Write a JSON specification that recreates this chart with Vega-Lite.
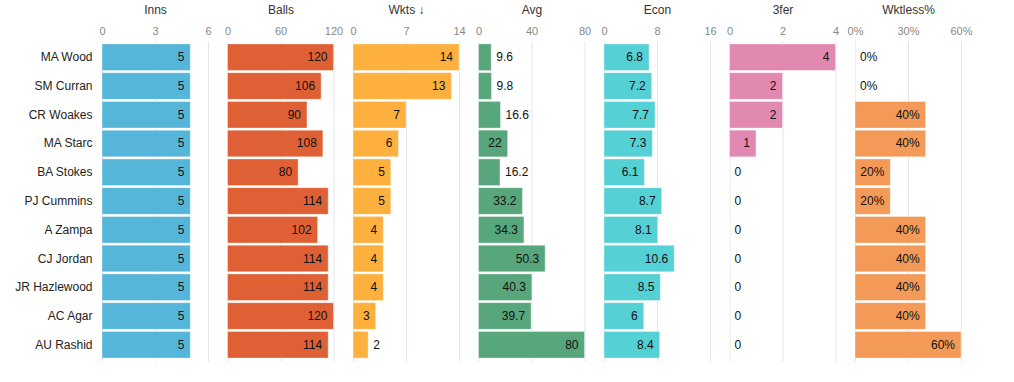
{
  "$schema": "https://vega.github.io/schema/vega-lite/v6.json",
  "padding": {"left": 0, "top": 3, "right": 5, "bottom": 5},
  "background": "white",
  "bounds": "flush",
  "data": {"values": [
    {"Player": "MA Wood", "Inns": 5, "Balls": 120, "Wkts": 14, "Avg": 9.6, "Econ": 6.8, "ThreeFer": 4, "Wktless": 0},
    {"Player": "SM Curran", "Inns": 5, "Balls": 106, "Wkts": 13, "Avg": 9.8, "Econ": 7.2, "ThreeFer": 2, "Wktless": 0},
    {"Player": "CR Woakes", "Inns": 5, "Balls": 90, "Wkts": 7, "Avg": 16.6, "Econ": 7.7, "ThreeFer": 2, "Wktless": 0.4},
    {"Player": "MA Starc", "Inns": 5, "Balls": 108, "Wkts": 6, "Avg": 22, "Econ": 7.3, "ThreeFer": 1, "Wktless": 0.4},
    {"Player": "BA Stokes", "Inns": 5, "Balls": 80, "Wkts": 5, "Avg": 16.2, "Econ": 6.1, "ThreeFer": 0, "Wktless": 0.2},
    {"Player": "PJ Cummins", "Inns": 5, "Balls": 114, "Wkts": 5, "Avg": 33.2, "Econ": 8.7, "ThreeFer": 0, "Wktless": 0.2},
    {"Player": "A Zampa", "Inns": 5, "Balls": 102, "Wkts": 4, "Avg": 34.3, "Econ": 8.1, "ThreeFer": 0, "Wktless": 0.4},
    {"Player": "CJ Jordan", "Inns": 5, "Balls": 114, "Wkts": 4, "Avg": 50.3, "Econ": 10.6, "ThreeFer": 0, "Wktless": 0.4},
    {"Player": "JR Hazlewood", "Inns": 5, "Balls": 114, "Wkts": 4, "Avg": 40.3, "Econ": 8.5, "ThreeFer": 0, "Wktless": 0.4},
    {"Player": "AC Agar", "Inns": 5, "Balls": 120, "Wkts": 3, "Avg": 39.7, "Econ": 6, "ThreeFer": 0, "Wktless": 0.4},
    {"Player": "AU Rashid", "Inns": 5, "Balls": 114, "Wkts": 2, "Avg": 80, "Econ": 8.4, "ThreeFer": 0, "Wktless": 0.6}
  ]},
  "spacing": 19.5,
  "resolve": {"scale": {"x": "independent", "y": "independent"}},
  "hconcat": [
    {
      "width": 106, "height": 320,
      "encoding": {
        "y": {"field": "Player", "type": "nominal", "sort": null, "scale": {"paddingInner": 0.07, "paddingOuter": 0.1},
              "axis": {"title": null, "domain": false, "ticks": false, "grid": false, "labelFontSize": 12, "labelColor": "#222", "labelPadding": 10, "minExtent": 102, "maxExtent": 102}},
        "x": {"field": "Inns", "type": "quantitative", "scale": {"domain": [0, 6], "nice": false}, "axis": {"orient": "top", "values": [0, 3, 6], "title": "Inns"}}
      },
      "layer": [
        {"mark": {"type": "bar", "color": "#55b6da", "stroke": "white", "strokeOpacity": 0.4, "strokeWidth": 1}},
        {"transform": [{"filter": "datum.Inns > 1"}], "mark": {"type": "text", "align": "right", "dx": -6}, "encoding": {"text": {"field": "Inns", "type": "quantitative"}}},
        {"transform": [{"filter": "datum.Inns <= 1"}], "mark": {"type": "text", "align": "left", "dx": 5}, "encoding": {"text": {"field": "Inns", "type": "quantitative"}}}
      ]
    },
    {
      "width": 106, "height": 320,
      "encoding": {
        "y": {"field": "Player", "type": "nominal", "sort": null, "scale": {"paddingInner": 0.07, "paddingOuter": 0.1}, "axis": null},
        "x": {"field": "Balls", "type": "quantitative", "scale": {"domain": [0, 120], "nice": false}, "axis": {"orient": "top", "values": [0, 60, 120], "title": "Balls"}}
      },
      "layer": [
        {"mark": {"type": "bar", "color": "#e06035", "stroke": "white", "strokeOpacity": 0.4, "strokeWidth": 1}},
        {"transform": [{"filter": "datum.Balls > 30"}], "mark": {"type": "text", "align": "right", "dx": -6}, "encoding": {"text": {"field": "Balls", "type": "quantitative"}}},
        {"transform": [{"filter": "datum.Balls <= 30"}], "mark": {"type": "text", "align": "left", "dx": 5}, "encoding": {"text": {"field": "Balls", "type": "quantitative"}}}
      ]
    },
    {
      "width": 106, "height": 320,
      "encoding": {
        "y": {"field": "Player", "type": "nominal", "sort": null, "scale": {"paddingInner": 0.07, "paddingOuter": 0.1}, "axis": null},
        "x": {"field": "Wkts", "type": "quantitative", "scale": {"domain": [0, 14], "nice": false}, "axis": {"orient": "top", "values": [0, 7, 14], "title": "Wkts ↓"}}
      },
      "layer": [
        {"mark": {"type": "bar", "color": "#fdb03d", "stroke": "white", "strokeOpacity": 0.4, "strokeWidth": 1}},
        {"transform": [{"filter": "datum.Wkts > 2"}], "mark": {"type": "text", "align": "right", "dx": -6}, "encoding": {"text": {"field": "Wkts", "type": "quantitative"}}},
        {"transform": [{"filter": "datum.Wkts <= 2"}], "mark": {"type": "text", "align": "left", "dx": 5}, "encoding": {"text": {"field": "Wkts", "type": "quantitative"}}}
      ]
    },
    {
      "width": 106, "height": 320,
      "encoding": {
        "y": {"field": "Player", "type": "nominal", "sort": null, "scale": {"paddingInner": 0.07, "paddingOuter": 0.1}, "axis": null},
        "x": {"field": "Avg", "type": "quantitative", "scale": {"domain": [0, 80], "nice": false}, "axis": {"orient": "top", "values": [0, 40, 80], "title": "Avg"}}
      },
      "layer": [
        {"mark": {"type": "bar", "color": "#58a67c", "stroke": "white", "strokeOpacity": 0.4, "strokeWidth": 1}},
        {"transform": [{"filter": "datum.Avg > 20"}], "mark": {"type": "text", "align": "right", "dx": -6}, "encoding": {"text": {"field": "Avg", "type": "quantitative"}}},
        {"transform": [{"filter": "datum.Avg <= 20"}], "mark": {"type": "text", "align": "left", "dx": 5}, "encoding": {"text": {"field": "Avg", "type": "quantitative"}}}
      ]
    },
    {
      "width": 106, "height": 320,
      "encoding": {
        "y": {"field": "Player", "type": "nominal", "sort": null, "scale": {"paddingInner": 0.07, "paddingOuter": 0.1}, "axis": null},
        "x": {"field": "Econ", "type": "quantitative", "scale": {"domain": [0, 16], "nice": false}, "axis": {"orient": "top", "values": [0, 8, 16], "title": "Econ"}}
      },
      "layer": [
        {"mark": {"type": "bar", "color": "#55d0d4", "stroke": "white", "strokeOpacity": 0.4, "strokeWidth": 1}},
        {"transform": [{"filter": "datum.Econ > 4"}], "mark": {"type": "text", "align": "right", "dx": -6}, "encoding": {"text": {"field": "Econ", "type": "quantitative"}}},
        {"transform": [{"filter": "datum.Econ <= 4"}], "mark": {"type": "text", "align": "left", "dx": 5}, "encoding": {"text": {"field": "Econ", "type": "quantitative"}}}
      ]
    },
    {
      "width": 106, "height": 320,
      "encoding": {
        "y": {"field": "Player", "type": "nominal", "sort": null, "scale": {"paddingInner": 0.07, "paddingOuter": 0.1}, "axis": null},
        "x": {"field": "ThreeFer", "type": "quantitative", "scale": {"domain": [0, 4], "nice": false}, "axis": {"orient": "top", "values": [0, 2, 4], "title": "3fer"}}
      },
      "layer": [
        {"mark": {"type": "bar", "color": "#e289b2", "stroke": "white", "strokeOpacity": 0.4, "strokeWidth": 1}},
        {"transform": [{"filter": "datum.ThreeFer > 0.5"}], "mark": {"type": "text", "align": "right", "dx": -6}, "encoding": {"text": {"field": "ThreeFer", "type": "quantitative"}}},
        {"transform": [{"filter": "datum.ThreeFer <= 0.5"}], "mark": {"type": "text", "align": "left", "dx": 5}, "encoding": {"text": {"field": "ThreeFer", "type": "quantitative"}}}
      ]
    },
    {
      "width": 106, "height": 320,
      "encoding": {
        "y": {"field": "Player", "type": "nominal", "sort": null, "scale": {"paddingInner": 0.07, "paddingOuter": 0.1}, "axis": null},
        "x": {"field": "Wktless", "type": "quantitative", "scale": {"domain": [0, 0.6], "nice": false}, "axis": {"orient": "top", "values": [0, 0.3, 0.6], "format": ".0%", "title": "Wktless%"}}
      },
      "layer": [
        {"mark": {"type": "bar", "color": "#f39a58", "stroke": "white", "strokeOpacity": 0.4, "strokeWidth": 1}},
        {"transform": [{"filter": "datum.Wktless > 0.1"}], "mark": {"type": "text", "align": "right", "dx": -6}, "encoding": {"text": {"field": "Wktless", "type": "quantitative", "format": ".0%"}}},
        {"transform": [{"filter": "datum.Wktless <= 0.1"}], "mark": {"type": "text", "align": "left", "dx": 5}, "encoding": {"text": {"field": "Wktless", "type": "quantitative", "format": ".0%"}}}
      ]
    }
  ],
  "config": {
    "view": {"stroke": null},
    "font": "Liberation Sans",
    "text": {"fontSize": 12, "color": "#111", "font": "Liberation Sans"},
    "axis": {"labelFont": "Liberation Sans", "titleFont": "Liberation Sans"},
    "axisX": {"domain": false, "ticks": false, "grid": true, "gridColor": "#e3e6ea", "labelColor": "#888", "labelFontSize": 11, "labelPadding": 5, "labelFlush": false, "titleFontSize": 12, "titleFontWeight": "normal", "titleColor": "#333", "titlePadding": 9}
  }
}
